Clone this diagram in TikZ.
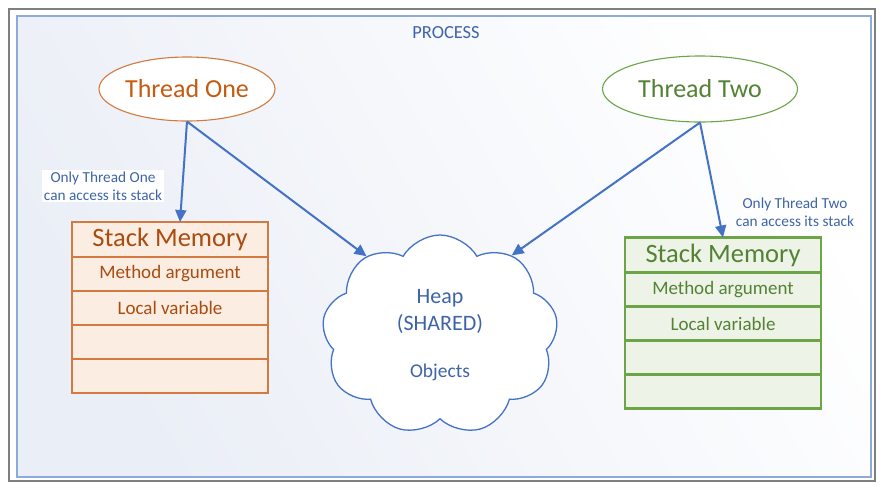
\documentclass[tikz,border=0pt]{standalone}
\usepackage{fontspec}
\setmainfont{Carlito}
\usetikzlibrary{positioning,shapes.geometric,shapes.symbols,arrows.meta}

\definecolor{orangeline}{HTML}{D27A3F}
\definecolor{orangetext}{HTML}{C55A11}
\definecolor{orangefill}{HTML}{FCEDE3}
\definecolor{greenline}{HTML}{6BA547}
\definecolor{greentext}{HTML}{548235}
\definecolor{greenfill}{HTML}{EDF3E6}
\definecolor{arrowblue}{HTML}{4472C4}
\definecolor{textblue}{HTML}{3E64A8}
\definecolor{frameblue}{HTML}{8EA9DB}
\definecolor{framegray}{HTML}{7F7F7F}
\definecolor{bgblue}{HTML}{EAEEF6}

\tikzset{
  thread/.style={ellipse, line width=1.1pt, fill=white, inner sep=0pt,
    font=\fontsize{26}{30}\selectfont},
  stackhead/.style={rectangle, line width=2.2pt, inner sep=0pt, outer sep=0pt,
    minimum width=196pt, minimum height=35pt, font=\fontsize{26.5}{30}\selectfont},
  stackrow/.style={rectangle, line width=2.2pt, inner sep=0pt, outer sep=0pt,
    minimum width=196pt, minimum height=34pt, font=\fontsize{19}{23}\selectfont},
  note/.style={align=center, text=textblue, fill=white, inner sep=2pt,
    font=\fontsize{15.3}{18}\selectfont},
  arr/.style={-{Triangle[length=12pt, width=11pt]}, line width=2pt, draw=arrowblue}
}

\begin{document}
\begin{tikzpicture}[x=1pt, y=-1pt]
  \useasboundingbox (0,0) rectangle (885,491);
  \fill[white] (0,0) rectangle (885,491);
  \shade[left color=bgblue, right color=white, shading angle=120] (17,16) rectangle (871,477);
  \draw[framegray, line width=2.4pt] (9,9) rectangle (875,481);
  \draw[frameblue, line width=1.6pt] (17,16) rectangle (871,477);

  \node[text=textblue, font=\fontsize{18.5}{20}\selectfont] (proc) at (446,33) {PROCESS};

  \node[thread, draw=orangeline, text=orangetext, minimum width=176pt, minimum height=64pt] (t1) at (187,89) {Thread One};
  \node[thread, draw=greenline, text=greentext, minimum width=195pt, minimum height=66pt] (t2) at (700,89) {Thread Two};

  \node[stackhead, draw=orangeline, fill=orangefill, text=orangetext!85!black] (s1h) at (170,239.5) {Stack Memory};
  \node[stackrow, draw=orangeline, fill=orangefill, text=orangetext!85!black, below=0pt of s1h] (s1a) {Method argument};
  \node[stackrow, draw=orangeline, fill=orangefill, text=orangetext!85!black, below=0pt of s1a] (s1b) {Local variable};
  \node[stackrow, draw=orangeline, fill=orangefill, below=0pt of s1b] (s1c) {};
  \node[stackrow, draw=orangeline, fill=orangefill, below=0pt of s1c] (s1d) {};

  \node[stackhead, draw=greenline, fill=greenfill, text=greentext] (s2h) at (723,255) {Stack Memory};
  \node[stackrow, draw=greenline, fill=greenfill, text=greentext, below=0pt of s2h] (s2a) {Method argument};
  \node[stackrow, draw=greenline, fill=greenfill, text=greentext, below=0pt of s2a] (s2b) {Local variable};
  \node[stackrow, draw=greenline, fill=greenfill, below=0pt of s2b] (s2c) {};
  \node[stackrow, draw=greenline, fill=greenfill, below=0pt of s2c] (s2d) {};

  \node[cloud, draw=arrowblue, line width=1.3pt, fill=white, cloud puffs=9, cloud puff arc=120,
    aspect=1.2, minimum width=236pt, minimum height=200pt, align=center, text=textblue,
    font=\fontsize{22}{27}\selectfont] (heap) at (440,335) {Heap\\(SHARED)\\[20pt]{\fontsize{19.5}{22}\selectfont Objects}};

  \node[note] (n1) at (103,186) {Only Thread One\\can access its stack};
  \node[note, fill=none] (n2) at (795,212) {Only Thread Two\\can access its stack};

  \draw[arr] (t1.south) -- ([xshift=10pt]s1h.north);
  \draw[arr] (t1.south) -- (heap.133);
  \draw[arr] (t2.south) -- (heap.48);
  \draw[arr] (t2.south) -- (s2h.north);
\end{tikzpicture}
\end{document}
